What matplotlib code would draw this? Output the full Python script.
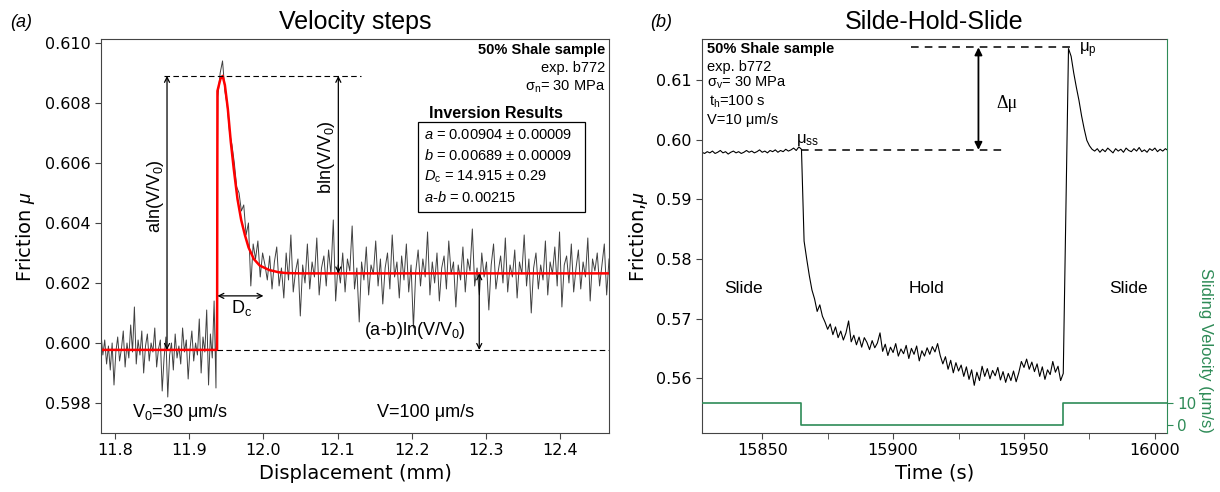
import matplotlib.pyplot as plt
import numpy as np
from matplotlib.ticker import MultipleLocator, FormatStrFormatter
from matplotlib.patches import Rectangle

plt.rcParams['mathtext.fontset'] = 'custom'
plt.rcParams['mathtext.rm'] = 'Liberation Sans'
plt.rcParams['mathtext.it'] = 'Liberation Sans:italic'
plt.rcParams['mathtext.bf'] = 'Liberation Sans:bold'

# ---------------- (a) velocity step: friction vs displacement ----------------
pre_start = 11.781
pre_end = 11.936
pre_mu = [
    0.6003, 0.5996, 0.6001, 0.5993, 0.5999, 0.5991, 0.6000, 0.5986, 0.5997, 0.6002,
    0.5994, 0.5998, 0.6004, 0.5992, 0.6000, 0.5995, 0.6006, 0.5997, 0.6012, 0.5993,
    0.6001, 0.5996, 0.6004, 0.5990, 0.5999, 0.6003, 0.5994, 0.6000, 0.5997, 0.6005,
    0.5992, 0.5998, 0.6001, 0.5984, 0.5995, 0.6002, 0.5982, 0.5996, 0.6000, 0.5991,
    0.6003, 0.5995, 0.5999, 0.5993, 0.6005, 0.5997, 0.6001, 0.5988, 0.5998, 0.6004,
    0.5994, 0.6000, 0.5996, 0.6008, 0.5990, 0.6002, 0.5997, 0.6011, 0.5986, 0.6003,
    0.5995, 0.6014, 0.5985]

post_start = 11.9385
post_end = 12.466
post_mu = [
    0.6082, 0.6090, 0.6094, 0.6084, 0.6079, 0.6070, 0.6066, 0.6060, 0.6052, 0.6050,
    0.6044, 0.6046, 0.6036, 0.6040, 0.6019, 0.6033, 0.6028, 0.6034, 0.6022, 0.6030,
    0.6026, 0.6021,
    0.6029, 0.6018, 0.6027, 0.6032, 0.6019, 0.6025, 0.6015, 0.6030, 0.6021, 0.6036,
    0.6017, 0.6024, 0.6028, 0.6009, 0.6026, 0.6020, 0.6033, 0.6018, 0.6027, 0.6022,
    0.6035, 0.6016, 0.6025, 0.6029, 0.6019, 0.6031, 0.6023, 0.6041, 0.6014, 0.6026,
    0.6020, 0.6030, 0.6017, 0.6028, 0.6024, 0.6039, 0.6018, 0.6025, 0.6007, 0.6027,
    0.6021, 0.6032, 0.6016, 0.6026, 0.6023, 0.6034, 0.6019, 0.6028, 0.6013, 0.6025,
    0.6030, 0.6018, 0.6036, 0.6022, 0.6027, 0.6015, 0.6029, 0.6021, 0.6033, 0.6017,
    0.6026, 0.6005, 0.6024, 0.6031, 0.6019, 0.6028, 0.6022, 0.6037, 0.6016, 0.6027,
    0.6020, 0.6030, 0.6014, 0.6025, 0.6029, 0.6018, 0.6034, 0.6023, 0.6027, 0.6012,
    0.6026, 0.6021, 0.6032, 0.6017, 0.6028, 0.6024, 0.6038, 0.6019, 0.6025, 0.6016,
    0.6030, 0.6022, 0.6027, 0.6011, 0.6026, 0.6033, 0.6018, 0.6024, 0.6029, 0.6020,
    0.6035, 0.6017, 0.6026, 0.6022, 0.6031, 0.6015, 0.6027, 0.6023, 0.6036, 0.6019,
    0.6028, 0.6010, 0.6025, 0.6030, 0.6018, 0.6026, 0.6021, 0.6034, 0.6016, 0.6027,
    0.6023, 0.6032, 0.6019, 0.6037, 0.6012, 0.6026, 0.6029, 0.6020, 0.6033, 0.6017,
    0.6025, 0.6031, 0.6018, 0.6027, 0.6022, 0.6035, 0.6014, 0.6028, 0.6024, 0.6030,
    0.6019, 0.6026, 0.6033, 0.6016, 0.6028]

# rate-and-state inversion fit (red)
fit_disp = [11.781, 11.9375, 11.9380, 11.9420, 11.9450, 11.9480, 11.9520, 11.9560,
            11.9600, 11.9650, 11.9700, 11.9750, 11.9800, 11.9870, 11.9950, 12.0080,
            12.0200, 12.0300, 12.0500, 12.4660]
fit_mu = [0.59977, 0.59977, 0.6084, 0.6088, 0.6089, 0.6086, 0.6078, 0.6067,
          0.6058, 0.6048, 0.6041, 0.6036, 0.60318, 0.60280, 0.60258, 0.60243,
          0.60236, 0.60233, 0.60232, 0.60232]

# ---------------- (b) slide-hold-slide: friction vs time ----------------
shs_t0 = 15827
shs_dt = 1.0
shs_mu = [
    # slide (15827-15864)
    0.5979, 0.5977, 0.5980, 0.5978, 0.5981, 0.5977, 0.5979, 0.5982, 0.5978, 0.5980,
    0.5976, 0.5979, 0.5981, 0.5978, 0.5980, 0.5977, 0.5979, 0.5982, 0.5979, 0.5981,
    0.5978, 0.5980, 0.5983, 0.5979, 0.5981, 0.5978, 0.5982, 0.5980, 0.5983, 0.5979,
    0.5982, 0.5980, 0.5984, 0.5981, 0.5983, 0.5986, 0.5982, 0.5988,
    0.5984,
    # hold (15866-15965)
    0.5830, 0.5800, 0.5772, 0.5748, 0.5733, 0.5712, 0.5723, 0.5704, 0.5694, 0.5682,
    0.5691, 0.5673, 0.5686, 0.5668, 0.5679, 0.5664, 0.5676, 0.5696, 0.5661, 0.5672,
    0.5656, 0.5669, 0.5652, 0.5668, 0.5660, 0.5648, 0.5663, 0.5651, 0.5659, 0.5676,
    0.5645, 0.5657, 0.5638, 0.5652, 0.5643, 0.5658, 0.5637, 0.5649, 0.5641, 0.5655,
    0.5633, 0.5650, 0.5640, 0.5654, 0.5629, 0.5646, 0.5637, 0.5651, 0.5640, 0.5653,
    0.5644, 0.5658, 0.5638, 0.5624, 0.5636, 0.5615, 0.5630, 0.5609, 0.5626, 0.5612,
    0.5622, 0.5603, 0.5619, 0.5598, 0.5614, 0.5588, 0.5610, 0.5596, 0.5620, 0.5603,
    0.5616, 0.5599, 0.5613, 0.5604, 0.5618, 0.5597, 0.5611, 0.5593, 0.5608, 0.5596,
    0.5612, 0.5594, 0.5609, 0.5628, 0.5618, 0.5632, 0.5615, 0.5627, 0.5611, 0.5624,
    0.5603, 0.5619, 0.5598, 0.5614, 0.5606, 0.5628, 0.5610, 0.5620, 0.5596, 0.5608,
    # reslide (15966-16005)
    0.5880, 0.6153, 0.6140, 0.6112, 0.6088, 0.6066, 0.6040, 0.6018, 0.5999, 0.5990,
    0.5984,
    0.5981, 0.5985, 0.5979, 0.5984, 0.5980, 0.5986, 0.5982, 0.5978, 0.5985, 0.5981,
    0.5984, 0.5979, 0.5986, 0.5982, 0.5980, 0.5985, 0.5981, 0.5987, 0.5980, 0.5983,
    0.5979, 0.5985, 0.5982, 0.5986, 0.5980, 0.5984, 0.5981, 0.5985, 0.5982]

vel_time = [15827, 15865, 15965, 16005]
vel_value = [10, 0, 10, 10]

mu_ss = 0.5983
mu_peak = 0.6155

green = '#2e8b57'
spine_col = '#444444'

fig = plt.figure(figsize=(12.2, 4.92), dpi=100)
ax1 = fig.add_axes([0.0828, 0.1199, 0.4164, 0.8008])
ax2 = fig.add_axes([0.5754, 0.1199, 0.3811, 0.8008])

# ---------------- panel (a) ----------------
x_pre = np.linspace(pre_start, pre_end, len(pre_mu))
x_post = np.linspace(post_start, post_end, len(post_mu))
disp = np.concatenate([x_pre, x_post])
mu = np.concatenate([pre_mu, post_mu])

ax1.plot(disp, mu, color='0.25', lw=0.7)
ax1.plot(fit_disp, fit_mu, color='red', lw=1.8)

mu0 = fit_mu[0]
mup = max(fit_mu)
mu1 = fit_mu[-1]
ax1.plot([11.866, 12.131], [mup, mup], ls=(0, (5, 3)), color='black', lw=0.8)
ax1.plot([11.938, 12.466], [mu0, mu0], ls=(0, (5, 3)), color='black', lw=0.8)

arr = dict(arrowstyle='<->', color='black', lw=0.9, shrinkA=0, shrinkB=0,
           mutation_scale=9)
ax1.annotate('', xy=(11.870, mup), xytext=(11.870, mu0), arrowprops=arr)
ax1.annotate('', xy=(12.101, mup), xytext=(12.101, mu1), arrowprops=arr)
ax1.annotate('', xy=(12.291, mu1), xytext=(12.291, mu0), arrowprops=arr)
ax1.annotate('', xy=(11.938, 0.60157), xytext=(12.0, 0.60157), arrowprops=arr)

tfont = dict(family='Liberation Sans', fontsize=13)
ax1.text(11.855, 0.6049, r'aln(V/V$_0$)', rotation=90, ha='center', va='center', **tfont)
ax1.text(12.085, 0.6062, r'bln(V/V$_0$)', rotation=90, ha='center', va='center', **tfont)
ax1.text(12.204, 0.60043, r'(a-b)ln(V/V$_0$)', ha='center', va='center', **tfont)
ax1.text(11.970, 0.60117, r'D$_\mathrm{c}$', ha='center', va='center', **tfont)
ax1.text(11.888, 0.5977, r'V$_0$=30 μm/s', ha='center', va='center', **tfont)
ax1.text(12.219, 0.5977, 'V=100 μm/s', ha='center', va='center', **tfont)

sfont = dict(family='Liberation Sans', fontsize=10.5)
ax1.text(0.992, 0.972, '50% Shale sample', transform=ax1.transAxes, ha='right',
         va='center', fontweight='bold', **sfont)
ax1.text(0.992, 0.926, 'exp. b772', transform=ax1.transAxes, ha='right', va='center', **sfont)
ax1.text(0.992, 0.878, r'σ$_\mathrm{n}$= 30 MPa', transform=ax1.transAxes, ha='right',
         va='center', **sfont)
ax1.text(0.778, 0.812, 'Inversion Results', transform=ax1.transAxes, ha='center',
         va='center', fontweight='bold', family='Liberation Sans', fontsize=11.5)
ax1.add_patch(Rectangle((0.623, 0.561), 0.330, 0.228, transform=ax1.transAxes,
                        fill=False, edgecolor='black', lw=0.9))
inv_lines = [r'$a$ = 0.00904 $\pm$ 0.00009',
             r'$b$ = 0.00689 $\pm$ 0.00009',
             r'$D_\mathrm{c}$ = 14.915 $\pm$ 0.29',
             r'$a$-$b$ = 0.00215']
for i, s in enumerate(inv_lines):
    ax1.text(0.636, 0.7564 - i * 0.0533, s, transform=ax1.transAxes, ha='left',
             va='center', family='Liberation Sans', fontsize=10.5)

ax1.set_xlim(11.781, 12.466)
ax1.set_ylim(0.5970, 0.61013)
ax1.xaxis.set_major_locator(MultipleLocator(0.1))
ax1.xaxis.set_major_formatter(FormatStrFormatter('%.1f'))
ax1.yaxis.set_major_locator(MultipleLocator(0.002))
ax1.yaxis.set_major_formatter(FormatStrFormatter('%.3f'))
ax1.set_xlabel('Displacement (mm)', fontsize=14)
ax1.set_ylabel(r'Friction $\mu$', fontsize=14, labelpad=6)
ax1.set_title('Velocity steps', family='Liberation Sans', fontsize=18, pad=7)

# ---------------- panel (b) ----------------
t = shs_t0 + shs_dt * np.arange(len(shs_mu))
ax2.plot(t, shs_mu, color='black', lw=0.8)

ax2.plot([15865, 15942], [mu_ss, mu_ss], ls=(0, (5, 4)), color='black', lw=1.1)
ax2.plot([15907, 15970], [mu_peak, mu_peak], ls=(0, (5, 4)), color='black', lw=1.1)
ax2.annotate('', xy=(15932.6, mu_peak), xytext=(15932.6, mu_ss),
             arrowprops=dict(arrowstyle='<|-|>', color='black', lw=1.3,
                             shrinkA=0, shrinkB=0, mutation_scale=11))
ax2.text(15939.5, 0.6061, 'Δμ', family='Liberation Serif', fontsize=13,
         ha='left', va='center')
ax2.text(15863, 0.5986, r'μ$_\mathrm{ss}$', family='Liberation Sans', fontsize=12,
         ha='left', va='bottom')
ax2.text(15971, 0.6150, r'μ$_\mathrm{p}$', family='Liberation Sans', fontsize=12,
         ha='left', va='center')

lfont = dict(family='Liberation Sans', fontsize=12.5, ha='center', va='center')
ax2.text(15843, 0.5751, 'Slide', **lfont)
ax2.text(15912.6, 0.5751, 'Hold', **lfont)
ax2.text(15990, 0.5751, 'Slide', **lfont)

bfont = dict(family='Liberation Sans', fontsize=10.5, ha='left', va='center')
ax2.text(0.011, 0.975, '50% Shale sample', transform=ax2.transAxes,
         fontweight='bold', **bfont)
ax2.text(0.011, 0.929, 'exp. b772', transform=ax2.transAxes, **bfont)
ax2.text(0.011, 0.888, r'σ$_\mathrm{v}$= 30 MPa', transform=ax2.transAxes, **bfont)
ax2.text(0.015, 0.840, r't$_\mathrm{h}$=100 s', transform=ax2.transAxes, **bfont)
ax2.text(0.011, 0.794, 'V=10 μm/s', transform=ax2.transAxes, **bfont)

ax2.set_xlim(15827, 16004.6)
ax2.set_ylim(0.5508, 0.6169)
ax2.xaxis.set_major_locator(MultipleLocator(50))
ax2.xaxis.set_minor_locator(MultipleLocator(25))
ax2.yaxis.set_major_locator(MultipleLocator(0.01))
ax2.yaxis.set_major_formatter(FormatStrFormatter('%.2f'))
ax2.set_xlabel('Time (s)', fontsize=14)
ax2.set_ylabel(r'Friction,$\mu$', fontsize=14, labelpad=4)
ax2.set_title('Silde-Hold-Slide', family='Liberation Sans', fontsize=18, pad=7)

ax3 = ax2.twinx()
ax3.step(vel_time, vel_value, where='post', color=green, lw=1.2)
ax3.set_ylim(-3.64, 175.5)
ax3.set_yticks([0, 10])
ax3.tick_params(axis='y', colors=green, labelsize=11, length=4)
ax3.spines['right'].set_color(green)
for s in ['left', 'top', 'bottom']:
    ax3.spines[s].set_visible(False)
ax3.text(1.082, 0.21, 'Sliding Velocity (μm/s)', transform=ax3.transAxes,
         rotation=270, color=green, family='Liberation Sans', fontsize=12,
         ha='center', va='center')

for ax in (ax1, ax2):
    for s in ['left', 'right', 'top', 'bottom']:
        ax.spines[s].set_color(spine_col)
    ax.tick_params(which='both', direction='out', length=4, labelsize=11.5,
                   color=spine_col)
ax2.spines['right'].set_visible(False)

fig.text(0.008, 0.955, '(a)', style='italic', family='Liberation Sans', fontsize=13,
         va='center')
fig.text(0.533, 0.955, '(b)', style='italic', family='Liberation Sans', fontsize=13,
         va='center')

fig.savefig('out.png', dpi=100, facecolor='white')
